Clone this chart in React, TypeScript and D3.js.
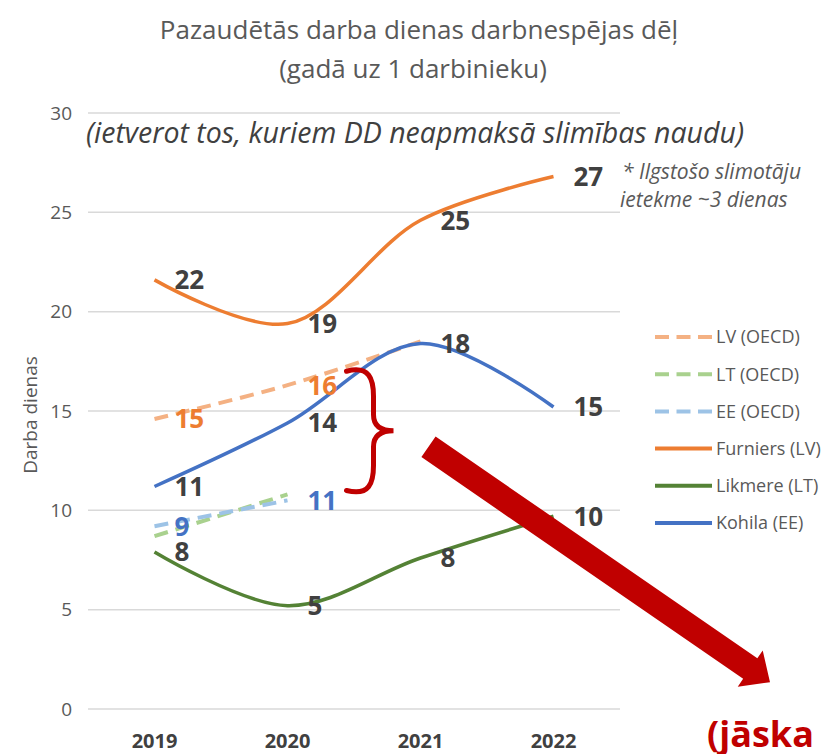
import React from 'react';
import * as d3 from 'd3';

const years = ['2019', '2020', '2021', '2022'];
const yTicks = [0, 5, 10, 15, 20, 25, 30];

const lvOecd = [14.6, 16.3, 18.5, null];
const ltOecd = [8.7, 10.8, null, null];
const eeOecd = [9.2, 10.5, null, null];
const furniers = [21.6, 19.4, 24.6, 26.8];
const likmere = [7.9, 5.2, 7.6, 9.7];
const kohila = [11.2, 14.4, 18.4, 15.2];

const series = [
  { name: 'LV (OECD)', values: lvOecd, color: '#f4b183', dash: '14 8', labels: [0, 1], labelColor: '#ed7d31' },
  { name: 'LT (OECD)', values: ltOecd, color: '#a9d18e', dash: '14 8', labels: [], labelColor: '#548235' },
  { name: 'EE (OECD)', values: eeOecd, color: '#9dc3e6', dash: '14 8', labels: [0, 1], labelColor: '#4472c4' },
  { name: 'Furniers (LV)', values: furniers, color: '#ed7d31', dash: null, labels: [0, 1, 2, 3], labelColor: '#404040' },
  { name: 'Likmere (LT)', values: likmere, color: '#548235', dash: null, labels: [0, 1, 2, 3], labelColor: '#404040' },
  { name: 'Kohila (EE)', values: kohila, color: '#4472c4', dash: null, labels: [0, 1, 2, 3], labelColor: '#404040' },
];

const W = 826;
const H = 754;
const font = '"Open Sans", "Noto Sans", sans-serif';

const App = () => {
  const x = d3.scaleBand().domain(years).range([88, 620]);
  const xc = (i) => x(years[i]) + x.bandwidth() / 2;
  const y = d3.scaleLinear().domain([0, 30]).range([709, 113]);

  const lineGen = d3
    .line()
    .defined((d) => d != null)
    .x((d, i) => xc(i))
    .y((d) => y(d))
    .curve(d3.curveCatmullRom);

  // brace between the OECD LV figure and the company figures
  const bx = xc(1) + 86;
  const bTop = y(17);
  const bBot = y(11);
  const bMid = (bTop + bBot) / 2;
  const brace = `M${bx - 27},${bTop} C${bx - 4},${bTop - 6} ${bx},${bTop + 8} ${bx},${bTop + 25}
    L${bx},${bMid - 16} C${bx},${bMid - 4} ${bx + 8},${bMid} ${bx + 20},${bMid}
    C${bx + 8},${bMid} ${bx},${bMid + 4} ${bx},${bMid + 16}
    L${bx},${bBot - 25} C${bx},${bBot - 8} ${bx - 4},${bBot + 6} ${bx - 27},${bBot}`;

  // big arrow
  const s = [xc(2) + 8, y(13.2)];
  const t = [770, y(1.35)];
  const len = Math.hypot(t[0] - s[0], t[1] - s[1]);
  const u = [(t[0] - s[0]) / len, (t[1] - s[1]) / len];
  const n = [u[1], -u[0]];
  const sw = 12.5;
  const hw = 22;
  const hl = 24;
  const b = [t[0] - u[0] * hl, t[1] - u[1] * hl];
  const pt = (p, k) => `${p[0] + n[0] * k},${p[1] + n[1] * k}`;
  const arrow = `M${pt(s, sw)} L${pt(b, sw)} L${pt(b, hw)} L${t[0]},${t[1]} L${pt(b, -hw)} L${pt(b, -sw)} L${pt(s, -sw)} Z`;

  return (
    <svg width={W} height={H} style={{ position: 'absolute', left: 0, top: 0, background: '#fff' }} fontFamily={font}>
      <text x={419} y={39} textAnchor="middle" fontSize={26} fill="#595959">
        Pazaudētās darba dienas darbnespējas dēļ
      </text>
      <text x={413} y={78} textAnchor="middle" fontSize={26} fill="#595959">
        (gadā uz 1 darbinieku)
      </text>

      {yTicks.map((v) => (
        <g key={v}>
          <line x1={88} x2={620} y1={y(v)} y2={y(v)} stroke="#d9d9d9" strokeWidth={1.5} />
          <text x={72} y={y(v)} dy="0.35em" textAnchor="end" fontSize={19} fill="#595959">
            {v}
          </text>
        </g>
      ))}

      <text transform={`translate(37, ${y(14.8)}) rotate(-90)`} textAnchor="middle" fontSize={19} fill="#595959">
        Darba dienas
      </text>

      {years.map((yr, i) => (
        <text key={yr} x={xc(i)} y={748} textAnchor="middle" fontSize={20} fontWeight="bold" fill="#404040">
          {yr}
        </text>
      ))}

      <text x={415} y={143} textAnchor="middle" fontSize={28.5} fontStyle="italic" fill="#404040">
        (ietverot tos, kuriem DD neapmaksā slimības naudu)
      </text>
      <text x={622} y={179} fontSize={21} fontStyle="italic" fill="#595959">
        * Ilgstošo slimotāju
      </text>
      <text x={620} y={207} fontSize={21} fontStyle="italic" fill="#595959">
        ietekme ~3 dienas
      </text>

      {series.map((sr) => (
        <path
          key={sr.name}
          d={lineGen(sr.values)}
          fill="none"
          stroke={sr.color}
          strokeWidth={sr.dash ? 4 : 3.5}
          strokeDasharray={sr.dash || undefined}
          strokeLinecap="butt"
        />
      ))}

      {series.map((sr) =>
        sr.labels.map((i) => (
          <text
            key={sr.name + i}
            x={xc(i) + 20}
            y={y(sr.values[i])}
            dy="0.36em"
            fontSize={26}
            fontWeight="bold"
            fill={sr.labelColor}
          >
            {Math.round(sr.values[i])}
          </text>
        ))
      )}

      {series.map((sr, k) => {
        const ly = 337 + k * 37.2;
        return (
          <g key={sr.name}>
            <line
              x1={655}
              x2={712}
              y1={ly}
              y2={ly}
              stroke={sr.color}
              strokeWidth={4}
              strokeDasharray={sr.dash ? '14 7.5' : undefined}
            />
            <text x={716} y={ly} dy="0.35em" fontSize={18} fill="#595959">
              {sr.name}
            </text>
          </g>
        );
      })}

      <path d={brace} fill="none" stroke="#c00000" strokeWidth={5} strokeLinecap="round" />
      <path d={arrow} fill="#c00000" />

      <text x={707} y={747} fontSize={36} fontWeight="bold" fill="#c00000">
        (jāska
      </text>
    </svg>
  );
};

export default App;
